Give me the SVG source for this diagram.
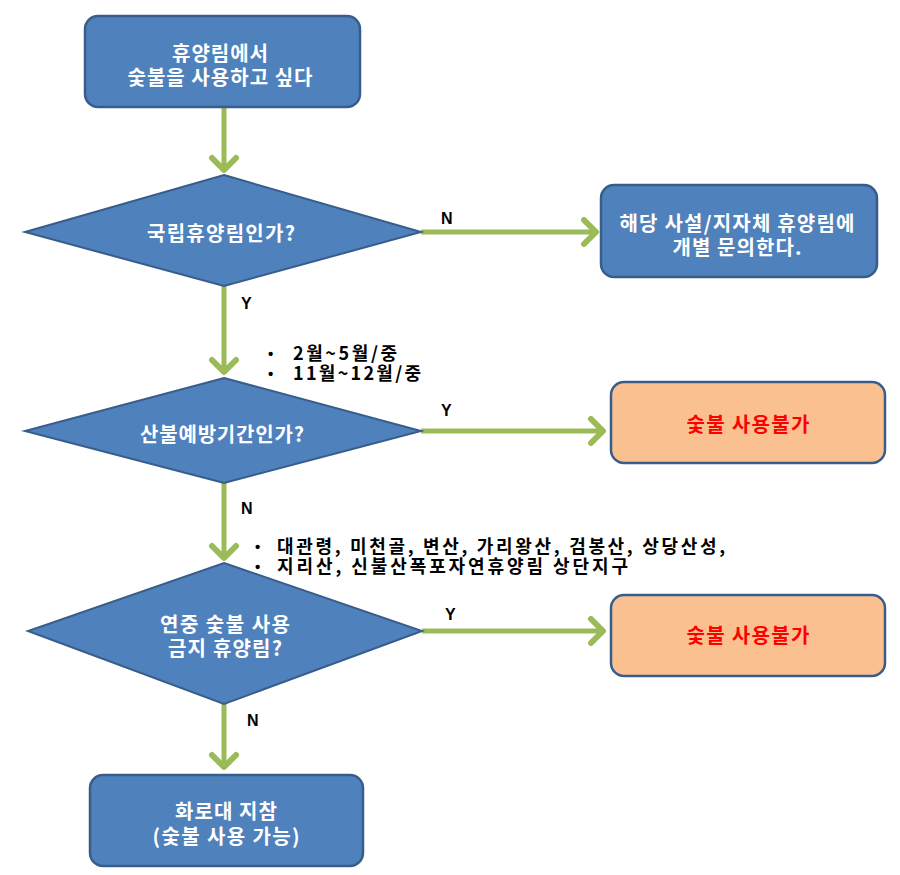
<svg xmlns="http://www.w3.org/2000/svg" width="900" height="875" viewBox="0 0 900 875">
<defs>
<style>
.box{fill:#4f81bd;stroke:#385d8a;stroke-width:2.5}
.warn{fill:#fac090;stroke:#385d8a;stroke-width:2.5}
.dia{fill:#4f81bd;stroke:#385d8a;stroke-width:2}
.wt{fill:#ffffff;font-family:"Noto Sans CJK KR","Liberation Sans",sans-serif;font-weight:bold;font-size:20px;text-anchor:middle}
.rt{fill:#ff0000;font-family:"Noto Sans CJK KR","Liberation Sans",sans-serif;font-weight:bold;font-size:20px;text-anchor:middle}
.lbl{fill:#000000;font-family:"Liberation Sans","Noto Sans CJK KR",sans-serif;font-weight:bold;font-size:16px}
.note{fill:#000000;font-family:"Noto Sans CJK KR","Liberation Sans",sans-serif;font-weight:bold;font-size:18px}
.bul{fill:#000000;font-family:"Liberation Sans",sans-serif;font-weight:bold;font-size:15px}
.conn{stroke:#9bbb59;stroke-width:5;fill:none}
</style>
<marker id="ah" markerUnits="userSpaceOnUse" markerWidth="30" markerHeight="30" viewBox="-20 -15 30 30" refX="0" refY="0" orient="auto">
<polyline points="-12,-12 0,0 -12,12" fill="none" stroke="#9bbb59" stroke-width="6" stroke-linecap="round" stroke-linejoin="round"/>
</marker>
</defs>
<rect width="900" height="875" fill="#ffffff"/>
<g id="connectors">
<line class="conn" x1="224" y1="107" x2="224" y2="170" marker-end="url(#ah)"/>
<line class="conn" x1="421" y1="232" x2="596" y2="232" marker-end="url(#ah)"/>
<line class="conn" x1="224" y1="286" x2="224" y2="372" marker-end="url(#ah)"/>
<line class="conn" x1="421" y1="431" x2="603" y2="431" marker-end="url(#ah)"/>
<line class="conn" x1="224" y1="483" x2="224" y2="558" marker-end="url(#ah)"/>
<line class="conn" x1="422" y1="631" x2="603" y2="631" marker-end="url(#ah)"/>
<line class="conn" x1="224" y1="704" x2="224" y2="767" marker-end="url(#ah)"/>
<text class="lbl" x="441" y="224">N</text>
<text class="lbl" x="241" y="309">Y</text>
<text class="lbl" x="441" y="416">Y</text>
<text class="lbl" x="241" y="514">N</text>
<text class="lbl" x="445" y="620">Y</text>
<text class="lbl" x="247" y="726">N</text>
</g>
<g id="start">
<rect class="box" x="85" y="16" width="275" height="91" rx="13"/>
<text class="wt" x="220" y="61" textLength="96">휴양림에서</text>
<text class="wt" x="220" y="85" textLength="185">숯불을 사용하고 싶다</text>
</g>
<g id="d1">
<polygon class="dia" points="224,175 421,232 224,286 25,232"/>
<text class="wt" x="221" y="241" textLength="148">국립휴양림인가?</text>
</g>
<g id="private">
<rect class="box" x="601" y="185" width="276" height="92" rx="13"/>
<text class="wt" x="737" y="231" textLength="235">해당 사설/지자체 휴양림에</text>
<text class="wt" x="737" y="255" textLength="129">개별 문의한다.</text>
</g>
<g id="note1">
<text class="bul" x="268" y="359">•</text>
<text class="note" x="293" y="360" textLength="104">2월~5월/중</text>
<text class="bul" x="268" y="379">•</text>
<text class="note" x="293" y="380" textLength="128">11월~12월/중</text>
</g>
<g id="d2">
<polygon class="dia" points="224,378 421,431 224,483 25,431"/>
<text class="wt" x="222" y="442" textLength="164">산불예방기간인가?</text>
</g>
<g id="ban1">
<rect class="warn" x="611" y="382" width="274" height="81" rx="13"/>
<text class="rt" x="748" y="432" textLength="123">숯불 사용불가</text>
</g>
<g id="note2">
<text class="bul" x="255" y="552">•</text>
<text class="note" x="277" y="553" textLength="448">대관령, 미천골, 변산, 가리왕산, 검봉산, 상당산성,</text>
<text class="bul" x="255" y="572">•</text>
<text class="note" x="277" y="573" textLength="351">지리산, 신불산폭포자연휴양림 상단지구</text>
</g>
<g id="d3">
<polygon class="dia" points="224,563 422,631 224,704 28,631"/>
<text class="wt" x="225" y="632" textLength="130">연중 숯불 사용</text>
<text class="wt" x="225" y="656" textLength="114">금지 휴양림?</text>
</g>
<g id="ban2">
<rect class="warn" x="611" y="595" width="274" height="81" rx="13"/>
<text class="rt" x="748" y="643" textLength="123">숯불 사용불가</text>
</g>
<g id="end">
<rect class="box" x="90" y="775" width="273" height="91" rx="13"/>
<text class="wt" x="226" y="819" textLength="102">화로대 지참</text>
<text class="wt" x="226" y="844" textLength="147">(숯불 사용 가능)</text>
</g>
</svg>
